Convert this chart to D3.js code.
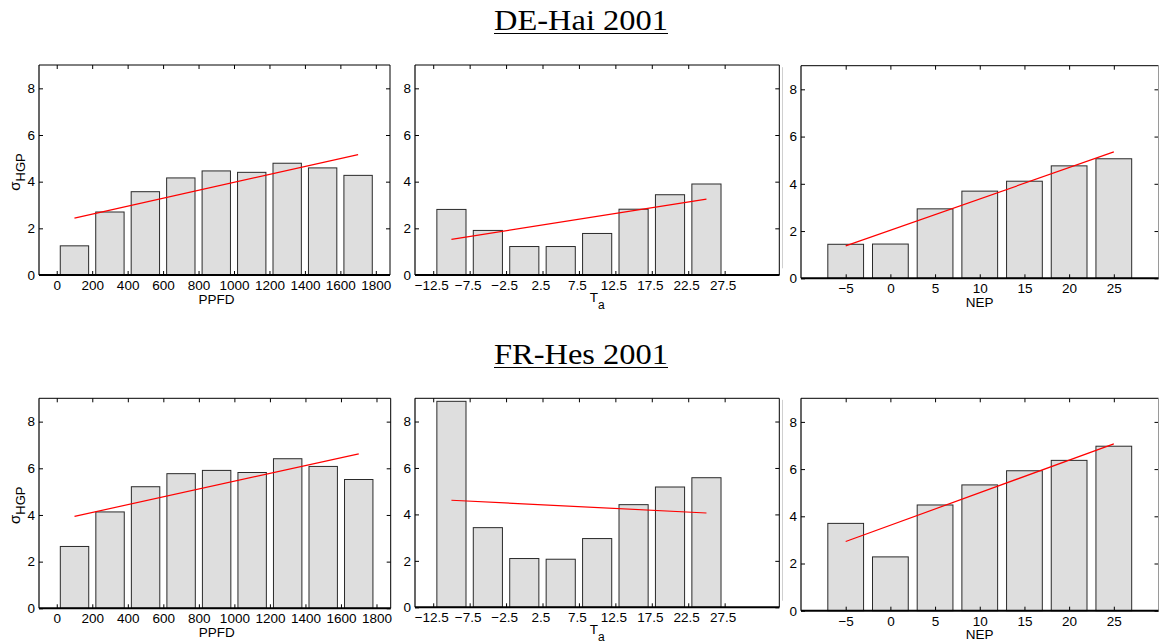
<!DOCTYPE html>
<html>
<head>
<meta charset="utf-8">
<script src="https://cdn.jsdelivr.net/npm/d3@7/dist/d3.min.js"></script>
<style>
  html, body { margin: 0; padding: 0; background: #fff; }
  svg { display: block; }
</style>
</head>
<body>
<svg id="fig" width="1159" height="644"></svg>
<script>
// Bin centres and tick labels for the three drivers
const ppfdCenters = [100, 300, 500, 700, 900, 1100, 1300, 1500, 1700];
const ppfdTicks = [0, 200, 400, 600, 800, 1000, 1200, 1400, 1600, 1800];
const taCenters = [-10, -5, 0, 5, 10, 15, 20, 25];
const taTicks = [-12.5, -7.5, -2.5, 2.5, 7.5, 12.5, 17.5, 22.5, 27.5];
const nepCenters = [-5, 0, 5, 10, 15, 20, 25];
const nepTicks = [-5, 0, 5, 10, 15, 20, 25];
const sigmaTicks = [0, 2, 4, 6, 8];

// sigma_HGP per bin, DE-Hai 2001
const haiPPFD = [1.25, 2.70, 3.57, 4.16, 4.46, 4.40, 4.79, 4.59, 4.27];
const haiTa = [2.81, 1.91, 1.22, 1.22, 1.78, 2.82, 3.44, 3.90];
const haiNEP = [1.44, 1.45, 2.94, 3.69, 4.11, 4.76, 5.06];
// sigma_HGP per bin, FR-Hes 2001
const hesPPFD = [2.65, 4.13, 5.21, 5.77, 5.91, 5.82, 6.41, 6.08, 5.52];
const hesTa = [8.87, 3.43, 2.10, 2.07, 2.96, 4.42, 5.18, 5.58];
const hesNEP = [3.70, 2.28, 4.48, 5.33, 5.93, 6.37, 6.97];

// Linear fit end points [driver, sigma]
const haiPPFDFit = [[100, 2.44], [1700, 5.16]];
const haiTaFit = [[-10, 1.53], [25, 3.25]];
const haiNEPFit = [[-5, 1.37], [25, 5.35]];
const hesPPFDFit = [[100, 3.94], [1700, 6.62]];
const hesTaFit = [[-10, 4.61], [25, 4.06]];
const hesNEPFit = [[-5, 2.93], [25, 7.07]];

const siteTitles = ["DE-Hai 2001", "FR-Hes 2001"];

// ---- layout ----
const FONT = "'Liberation Sans', Arial, Helvetica, sans-serif";
const TICK_FS = 13.5;

const drivers = [
  { centers: ppfdCenters, ticks: ppfdTicks, domain: [-100, 1880], width: 160, fmt: d3.format("d"), label: "PPFD", sub: null, dx: 0 },
  { centers: taCenters, ticks: taTicks, domain: [-15, 35], width: 4, fmt: d3.format(".1f"), label: "T", sub: "a", dx: -2 },
  { centers: nepCenters, ticks: nepTicks, domain: [-10, 30], width: 4, fmt: d3.format("d"), label: "NEP", sub: null, dx: 0 }
];

const rows = [
  {
    title: siteTitles[0], titleY: 30,
    values: [haiPPFD, haiTa, haiNEP],
    fits: [haiPPFDFit, haiTaFit, haiNEPFit],
    boxes: [
      { x0: 39, x1: 390, y0: 65, y1: 275 },
      { x0: 415, x1: 779.3, y0: 65, y1: 275 },
      { x0: 801, x1: 1158.5, y0: 65.7, y1: 278.3 }
    ]
  },
  {
    title: siteTitles[1], titleY: 364,
    values: [hesPPFD, hesTa, hesNEP],
    fits: [hesPPFDFit, hesTaFit, hesNEPFit],
    boxes: [
      { x0: 39, x1: 390.7, y0: 398.3, y1: 608.3 },
      { x0: 415, x1: 779.3, y0: 398.3, y1: 607.3 },
      { x0: 801, x1: 1158.5, y0: 398.3, y1: 610.7 }
    ]
  }
];

const svg = d3.select("#fig");

rows.forEach(row => {
  // Underlined serif title
  svg.append("text")
    .attr("x", 581).attr("y", row.titleY)
    .attr("text-anchor", "middle")
    .attr("font-family", "'Liberation Serif', 'Times New Roman', serif")
    .attr("font-size", 29)
    .attr("textLength", 174)
    .attr("lengthAdjust", "spacingAndGlyphs")
    .attr("fill", "#000")
    .text(row.title);
  svg.append("line")
    .attr("x1", 494).attr("x2", 668)
    .attr("y1", row.titleY + 3.5).attr("y2", row.titleY + 3.5)
    .attr("stroke", "#000").attr("stroke-width", 1.1);

  drivers.forEach((drv, i) => {
    const b = row.boxes[i];
    const vals = row.values[i];
    const fit = row.fits[i];

    const x = d3.scaleLinear().domain(drv.domain).range([b.x0, b.x1]);
    const y = d3.scaleLinear().domain([0, 9]).range([b.y1, b.y0]);
    const g = svg.append("g");

    // faint separator left of the NEP axes
    if (i === 2) {
      g.append("line")
        .attr("x1", b.x0 - 18.5).attr("x2", b.x0 - 18.5)
        .attr("y1", b.y0 + 1.5).attr("y2", b.y1 - 10)
        .attr("stroke", "#cfcfcf").attr("stroke-width", 1);
    }

    // Bars
    g.selectAll("rect.bar")
      .data(drv.centers.map((c, k) => ({ c, v: vals[k] })))
      .join("rect")
      .attr("class", "bar")
      .attr("x", d => x(d.c - drv.width / 2))
      .attr("width", d => x(d.c + drv.width / 2) - x(d.c - drv.width / 2))
      .attr("y", d => y(d.v))
      .attr("height", d => y(0) - y(d.v))
      .attr("fill", "#dedede")
      .attr("stroke", "#2a2a2a")
      .attr("stroke-width", 1);

    // Linear trend
    g.append("path")
      .attr("d", d3.line().x(d => x(d[0])).y(d => y(d[1]))(fit))
      .attr("fill", "none")
      .attr("stroke", "#ff0000")
      .attr("stroke-width", 1.2);

    // Axes with inward ticks on all four sides
    const styleAxis = sel => {
      sel.select(".domain").remove();
      sel.selectAll(".tick line").attr("stroke", "#000").attr("stroke-width", 1);
      sel.attr("font-family", FONT).attr("font-size", TICK_FS);
      sel.selectAll(".tick text").attr("fill", "#000");
    };

    g.append("g")
      .attr("transform", `translate(0,${b.y1})`)
      .call(d3.axisBottom(x).tickValues(drv.ticks).tickFormat(drv.fmt).tickSize(-4))
      .call(styleAxis)
      .call(s => s.selectAll(".tick text").attr("dy", null).attr("y", 15).attr("dx", drv.dx));

    g.append("g")
      .attr("transform", `translate(0,${b.y0})`)
      .call(d3.axisTop(x).tickValues(drv.ticks).tickFormat("").tickSize(-4))
      .call(styleAxis);

    g.append("g")
      .attr("transform", `translate(${b.x0},0)`)
      .call(d3.axisLeft(y).tickValues(sigmaTicks).tickFormat(d3.format("d")).tickSize(-4).tickPadding(4))
      .call(styleAxis);

    g.append("g")
      .attr("transform", `translate(${b.x1},0)`)
      .call(d3.axisRight(y).tickValues(sigmaTicks).tickFormat("").tickSize(-4))
      .call(styleAxis);

    // Frame
    const edge = i === 2 ? "#9a9a9a" : "#000";
    g.append("line").attr("x1", b.x0).attr("x2", b.x1).attr("y1", b.y0).attr("y2", b.y0)
      .attr("stroke", "#000").attr("stroke-width", 1);
    g.append("line").attr("x1", b.x0).attr("x2", b.x0).attr("y1", b.y0).attr("y2", b.y1)
      .attr("stroke", "#000").attr("stroke-width", 1.2);
    g.append("line").attr("x1", b.x1).attr("x2", b.x1).attr("y1", b.y0).attr("y2", b.y1)
      .attr("stroke", edge).attr("stroke-width", 1);
    g.append("line").attr("x1", b.x0).attr("x2", b.x1).attr("y1", b.y1).attr("y2", b.y1)
      .attr("stroke", "#000").attr("stroke-width", 2);

    // x label
    const cx = i === 0 ? (b.x0 + b.x1) / 2 + 2 : (b.x0 + b.x1) / 2;
    const xl = g.append("text")
      .attr("x", cx).attr("y", b.y1 + (drv.sub ? 27 : 28.5))
      .attr("text-anchor", "middle")
      .attr("font-family", FONT).attr("font-size", 13.5)
      .attr("fill", "#000")
      .text(drv.label);
    if (drv.sub) {
      xl.append("tspan").attr("dy", 6.5).attr("font-size", 12).text(drv.sub);
    }

    // y label on the PPFD panels
    if (i === 0) {
      const yl = g.append("text")
        .attr("transform", `translate(19.5,${(b.y0 + b.y1) / 2 + 2}) rotate(-90)`)
        .attr("text-anchor", "middle")
        .attr("font-family", FONT).attr("font-size", 15)
        .attr("fill", "#000");
      yl.append("tspan").text("σ");
      yl.append("tspan").attr("dy", 5.5).attr("font-size", 13).text("HGP");
    }
  });
});
</script>
</body>
</html>
